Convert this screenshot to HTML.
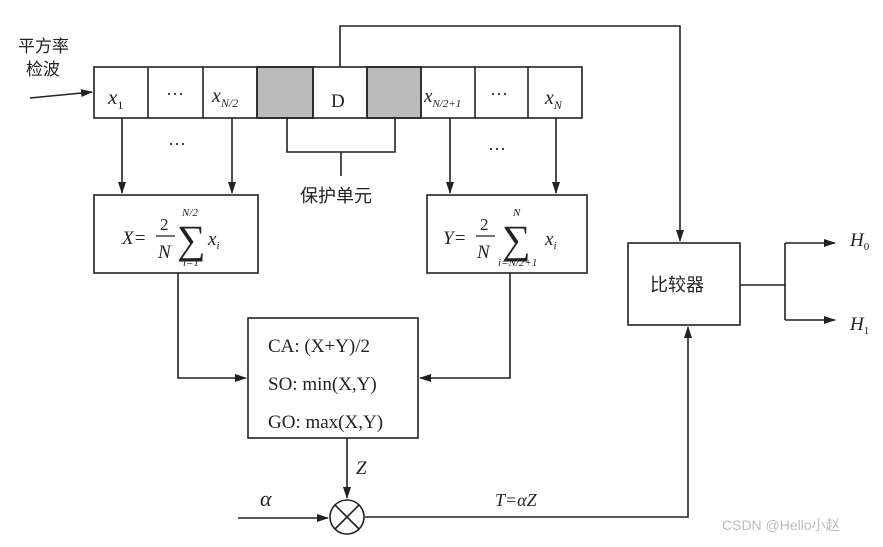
<!DOCTYPE html>
<html><head><meta charset="utf-8"><style>
body{margin:0;background:#fff}
svg text{font-family:"Liberation Serif","Noto Serif CJK SC",serif;fill:#222}
.cn{font-family:"Liberation Sans","Noto Sans CJK SC",sans-serif}
</style></head><body>
<svg width="883" height="542" viewBox="0 0 883 542" xmlns="http://www.w3.org/2000/svg">
<defs><marker id="a" markerWidth="12" markerHeight="8" refX="11" refY="4" orient="auto" markerUnits="userSpaceOnUse"><path d="M0,0 L12,4 L0,8 z" fill="#222"/></marker></defs>
<rect width="883" height="542" fill="#fff"/>
<g stroke="#222" stroke-width="1.6" fill="none">
<rect x="257" y="67" width="56" height="51" fill="#bbb"/>
<rect x="367" y="67" width="54" height="51" fill="#bbb"/>
<rect x="94" y="67" width="488" height="51"/>
<path d="M148,67V118M203,67V118M257,67V118M313,67V118M367,67V118M421,67V118M475,67V118M528,67V118"/>
<path d="M30,98 L92,92" marker-end="url(#a)"/>
<path d="M122,118V193" marker-end="url(#a)"/>
<path d="M232,118V193" marker-end="url(#a)"/>
<path d="M450,118V193" marker-end="url(#a)"/>
<path d="M556,118V193" marker-end="url(#a)"/>
<path d="M287,118V152H395V118M341,152V176"/>
<rect x="94" y="195" width="164" height="78"/>
<rect x="427" y="195" width="160" height="78"/>
<rect x="248" y="318" width="170" height="120"/>
<rect x="628" y="243" width="112" height="82"/>
<path d="M178,273V378H246" marker-end="url(#a)"/>
<path d="M510,273V378H420" marker-end="url(#a)"/>
<path d="M340,67V26H680V241" marker-end="url(#a)"/>
<path d="M347,438V498" marker-end="url(#a)"/>
<path d="M238,518H328" marker-end="url(#a)"/>
<circle cx="347" cy="517" r="17"/>
<path d="M335,505L359,529M359,505L335,529"/>
<path d="M365,517H688V327" marker-end="url(#a)"/>
<path d="M740,285H785M785,243V320"/>
<path d="M785,243H835" marker-end="url(#a)"/>
<path d="M785,320H835" marker-end="url(#a)"/>
</g>
<text x="18" y="52" class="cn" font-size="17">平方率</text>
<text x="26" y="75" class="cn" font-size="17">检波</text>
<text x="108" y="104" font-size="21" font-style="italic">x<tspan font-size="12" dy="5" font-style="normal">1</tspan></text>
<text x="166" y="100" font-size="18">···</text>
<text x="212" y="102" font-size="20" font-style="italic">x<tspan font-size="12" dy="5">N/2</tspan></text>
<text x="331" y="107" font-size="19">D</text>
<text x="424" y="102" font-size="19" font-style="italic">x<tspan font-size="11" dy="5">N/2+1</tspan></text>
<text x="490" y="100" font-size="18">···</text>
<text x="545" y="104" font-size="20" font-style="italic">x<tspan font-size="12" dy="5">N</tspan></text>
<text x="168" y="150" font-size="18">···</text>
<text x="488" y="155" font-size="18">···</text>
<text x="300" y="202" class="cn" font-size="18">保护单元</text>
<text x="122" y="244" font-size="19" font-style="italic">X=</text>
<text x="160" y="230" font-size="17">2</text><path d="M156,236H175" stroke="#222" stroke-width="1.2"/>
<text x="158" y="258" font-size="19" font-style="italic">N</text>
<text x="177" y="253" font-size="40">∑</text>
<text x="182" y="216" font-size="11" font-style="italic">N/2</text>
<text x="183" y="266" font-size="11" font-style="italic">i=1</text>
<text x="208" y="245" font-size="19" font-style="italic">x<tspan font-size="11" dy="4">i</tspan></text>
<text x="443" y="244" font-size="19" font-style="italic">Y=</text>
<text x="480" y="230" font-size="17">2</text><path d="M476,236H495" stroke="#222" stroke-width="1.2"/>
<text x="477" y="258" font-size="19" font-style="italic">N</text>
<text x="502" y="253" font-size="40">∑</text>
<text x="513" y="216" font-size="11" font-style="italic">N</text>
<text x="498" y="266" font-size="11" font-style="italic">i=N/2+1</text>
<text x="545" y="245" font-size="19" font-style="italic">x<tspan font-size="11" dy="4">i</tspan></text>
<text x="268" y="352" font-size="19">CA: (X+Y)/2</text>
<text x="268" y="390" font-size="19">SO:  min(X,Y)</text>
<text x="268" y="428" font-size="19">GO: max(X,Y)</text>
<text x="356" y="474" font-size="19" font-style="italic">Z</text>
<text x="260" y="506" font-size="22" font-style="italic">α</text>
<text x="495" y="506" font-size="18" font-style="italic">T=αZ</text>
<text x="650" y="291" class="cn" font-size="18">比较器</text>
<text x="850" y="246" font-size="19" font-style="italic">H<tspan font-size="11" dy="4" font-style="normal">0</tspan></text>
<text x="850" y="330" font-size="19" font-style="italic">H<tspan font-size="11" dy="4" font-style="normal">1</tspan></text>
<text x="722" y="530" class="cn" font-size="14" style="fill:#bbb">CSDN @Hello小赵</text>
</svg>
</body></html>
